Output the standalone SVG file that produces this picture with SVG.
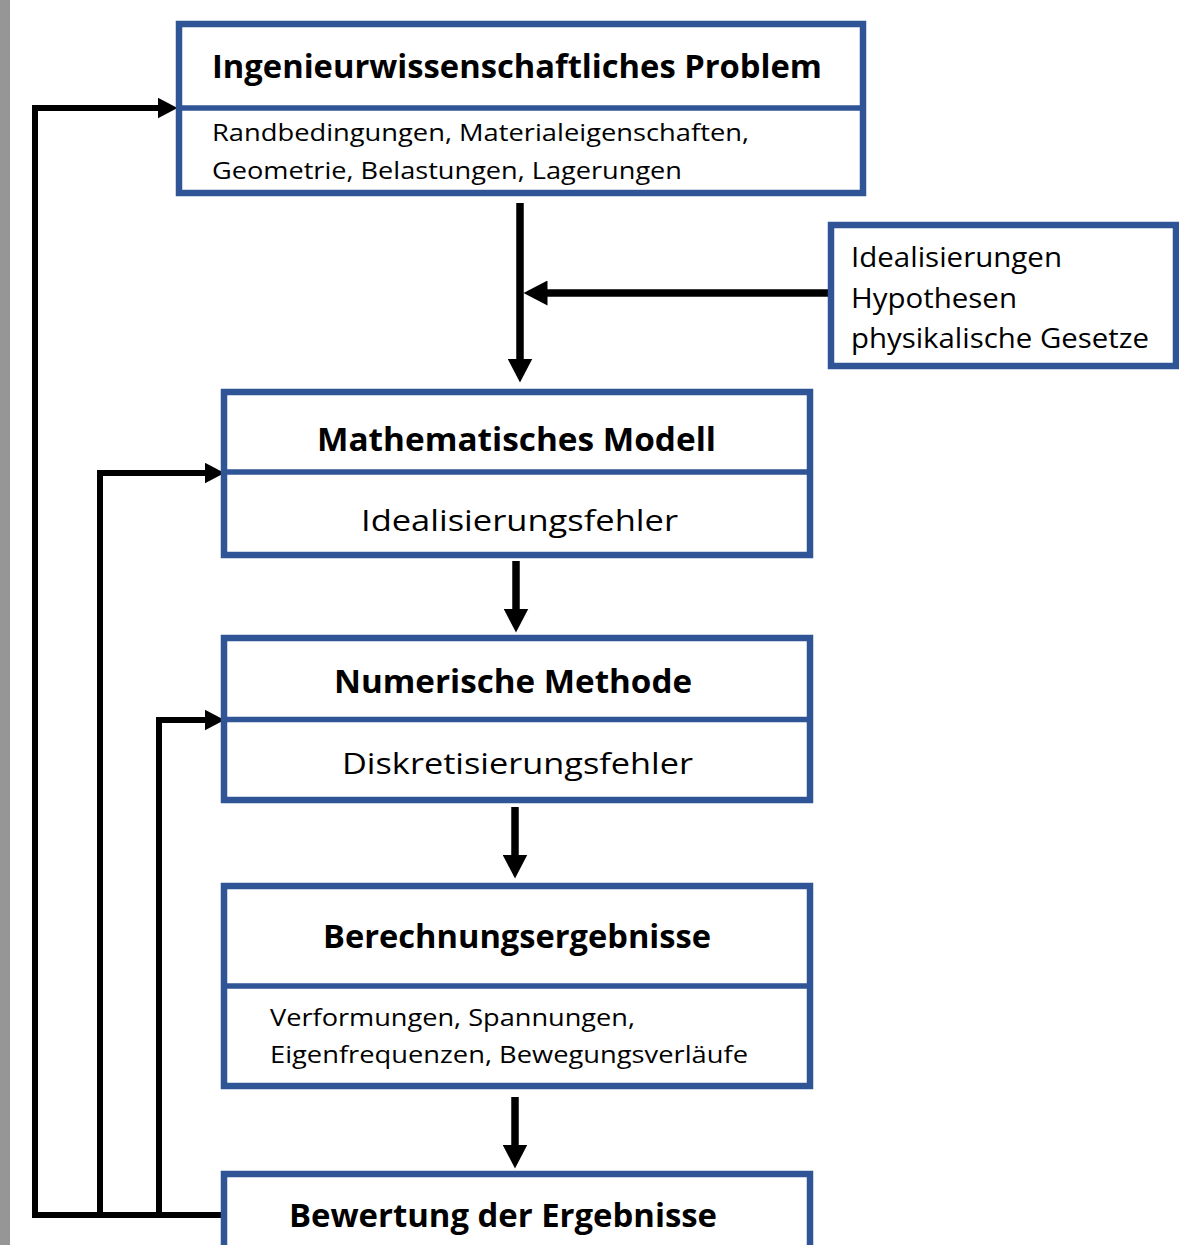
<svg xmlns="http://www.w3.org/2000/svg" width="1179" height="1245" viewBox="0 0 1179 1245">
<style>
.box{fill:#ffffff;stroke:#2F5597;stroke-width:6.5}
.div{stroke:#2F5597;stroke-width:5.5;fill:none}
.t{font-family:"Open Sans","Noto Sans","Liberation Sans",sans-serif;fill:#000000}
.b{font-weight:bold}
.conn{fill:none;stroke:#000000;stroke-linejoin:miter}
.thick{stroke-width:7.5}
.thin{stroke-width:6}
</style>
<defs>
<marker id="ahBig" markerUnits="userSpaceOnUse" markerWidth="24" markerHeight="25" viewBox="0 0 24 25" refX="0.5" refY="12.5" orient="auto">
<path d="M0,0 L24,12.5 L0,25 z" fill="#000000"/>
</marker>
<marker id="ahSmall" markerUnits="userSpaceOnUse" markerWidth="20" markerHeight="21" viewBox="0 0 20 21" refX="0.5" refY="10.5" orient="auto">
<path d="M0,0 L20,10.5 L0,21 z" fill="#000000"/>
</marker>
</defs>
<rect x="0" y="0" width="1179" height="1245" fill="#ffffff"/>
<rect x="0" y="0" width="10" height="1245" fill="#969696"/>

<g id="connectors">
<path class="conn thin" d="M224,1215 H35 V108 H158" marker-end="url(#ahSmall)"/>
<path class="conn thin" d="M100,1215 V473 H205" marker-end="url(#ahSmall)"/>
<path class="conn thin" d="M159,1215 V720 H205" marker-end="url(#ahSmall)"/>
<path class="conn thick" d="M520,203 V359" marker-end="url(#ahBig)"/>
<path class="conn thick" d="M831,293 H547" marker-end="url(#ahBig)"/>
<path class="conn thick" d="M516,561 V609" marker-end="url(#ahBig)"/>
<path class="conn thick" d="M515,807 V855" marker-end="url(#ahBig)"/>
<path class="conn thick" d="M515,1097 V1145" marker-end="url(#ahBig)"/>
</g>

<g id="node-problem">
<rect class="box" x="179" y="24" width="684" height="169"/>
<line class="div" x1="179" y1="108" x2="863" y2="108"/>
<text class="t b" x="212" y="78" font-size="33" textLength="610" lengthAdjust="spacingAndGlyphs">Ingenieurwissenschaftliches Problem</text>
<text class="t" x="212" y="141" font-size="24" textLength="537" lengthAdjust="spacingAndGlyphs">Randbedingungen, Materialeigenschaften,</text>
<text class="t" x="212" y="179" font-size="24" textLength="470" lengthAdjust="spacingAndGlyphs">Geometrie, Belastungen, Lagerungen</text>
</g>

<g id="node-annahmen">
<rect class="box" x="831" y="225" width="345" height="141"/>
<text class="t" x="851" y="267" font-size="27" textLength="211" lengthAdjust="spacingAndGlyphs">Idealisierungen</text>
<text class="t" x="851" y="308" font-size="27" textLength="166" lengthAdjust="spacingAndGlyphs">Hypothesen</text>
<text class="t" x="851" y="348" font-size="27" textLength="298" lengthAdjust="spacingAndGlyphs">physikalische Gesetze</text>
</g>

<g id="node-modell">
<rect class="box" x="224" y="392" width="586" height="163"/>
<line class="div" x1="224" y1="472" x2="810" y2="472"/>
<text class="t b" x="317" y="451" font-size="32" textLength="399" lengthAdjust="spacingAndGlyphs">Mathematisches Modell</text>
<text class="t" x="361" y="531" font-size="30" textLength="317" lengthAdjust="spacingAndGlyphs">Idealisierungsfehler</text>
</g>

<g id="node-methode">
<rect class="box" x="224" y="638" width="586" height="162"/>
<line class="div" x1="224" y1="719.5" x2="810" y2="719.5"/>
<text class="t b" x="334" y="693" font-size="32" textLength="358" lengthAdjust="spacingAndGlyphs">Numerische Methode</text>
<text class="t" x="342" y="774" font-size="30" textLength="351" lengthAdjust="spacingAndGlyphs">Diskretisierungsfehler</text>
</g>

<g id="node-ergebnisse">
<rect class="box" x="224" y="886" width="586" height="200"/>
<line class="div" x1="224" y1="986" x2="810" y2="986"/>
<text class="t b" x="323" y="948" font-size="32" textLength="388" lengthAdjust="spacingAndGlyphs">Berechnungsergebnisse</text>
<text class="t" x="270" y="1026" font-size="24" textLength="365" lengthAdjust="spacingAndGlyphs">Verformungen, Spannungen,</text>
<text class="t" x="270" y="1063" font-size="24" textLength="478" lengthAdjust="spacingAndGlyphs">Eigenfrequenzen, Bewegungsverläufe</text>
</g>

<g id="node-bewertung">
<rect class="box" x="224" y="1174" width="586" height="120"/>
<text class="t b" x="289" y="1227" font-size="32" textLength="428" lengthAdjust="spacingAndGlyphs">Bewertung der Ergebnisse</text>
</g>
</svg>
